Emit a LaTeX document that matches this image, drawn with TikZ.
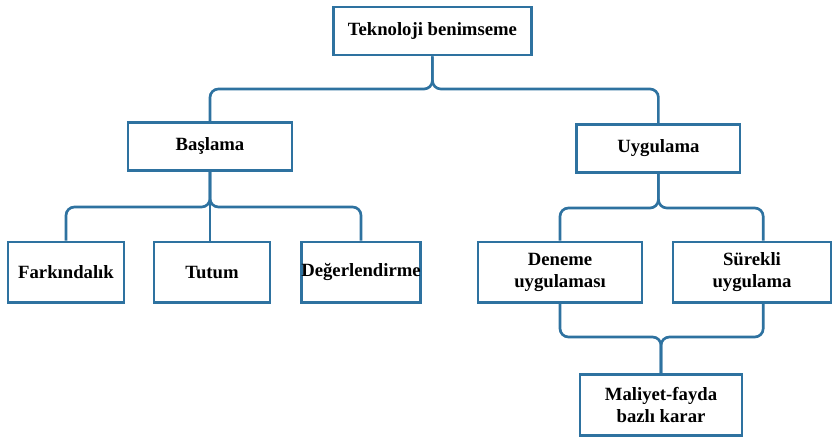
\documentclass[tikz,border=0pt]{standalone}
\usepackage{fontspec}
\setmainfont{Liberation Serif}
\usepackage{xcolor}
\usepackage{tikz}

\definecolor{linkblue}{RGB}{46,114,160}

\begin{document}
\begin{tikzpicture}[
    box/.style={draw=linkblue, line width=2pt, fill=white, align=center,
        font=\fontsize{13.3}{15.5}\selectfont\bfseries, inner sep=0pt},
    wide/.style={box, minimum height=1.2cm},
    tall/.style={box, minimum height=1.52cm},
    brace/.style={draw=linkblue, line width=1.9pt, rounded corners=6pt}
]
    \useasboundingbox (0,0) rectangle (20.825,-10.95);

    % --- Top level ---
    \node[wide, minimum width=4.95cm] (tekno) at (10.81,-0.775) {Teknoloji benimseme};

    % --- Second level ---
    \node[wide, minimum width=4.1cm] (basla) at (5.25,-3.66) {Başlama};
    \node[wide, minimum width=4.08cm] (uygu) at (16.46,-3.71) {Uygulama};

    % --- Third level ---
    \node[tall, minimum width=2.9cm] (fark) at (1.65,-6.81) {Farkındalık};
    \node[tall, minimum width=2.9cm] (tutum) at (5.3,-6.81) {Tutum};
    \node[tall, minimum width=2.95cm] (deger) at (9.025,-6.81) {Değerlendirme};
    \node[tall, minimum width=4.1cm] (deneme) at (14.0,-6.81) {Deneme\\uygulaması};
    \node[tall, minimum width=3.95cm] (surek) at (18.8,-6.81) {Sürekli\\uygulama};

    % --- Bottom ---
    \node[tall, minimum width=4.05cm] (maliyet) at (16.525,-10.125) {Maliyet-fayda\\bazlı karar};

    % --- Brace junctions ---
    \coordinate (j1) at (10.81,-2.225);
    \coordinate (j2) at (5.25,-5.175);
    \coordinate (j3) at (16.46,-5.2);
    \coordinate (j4) at (16.525,-8.425);

    % --- Braces ---
    \draw[brace] (basla.north) |- (j1) -- (tekno.south);
    \draw[brace] (uygu.north) |- (j1) -- (tekno.south);

    \draw[brace] (fark.north) |- (j2) -- (basla.south);
    \draw[brace] (deger.north) |- (j2) -- (basla.south);
    \draw[brace] (basla.south) -- (basla.south |- tutum.north);

    \draw[brace] (deneme.north) |- (j3) -- (uygu.south);
    \draw[brace] ([xshift=0.28cm]surek.north) |- (j3) -- (uygu.south);

    \draw[brace] (deneme.south) |- (j4) -- (maliyet.north);
    \draw[brace] ([xshift=0.28cm]surek.south) |- (j4) -- (maliyet.north);

\end{tikzpicture}
\end{document}
